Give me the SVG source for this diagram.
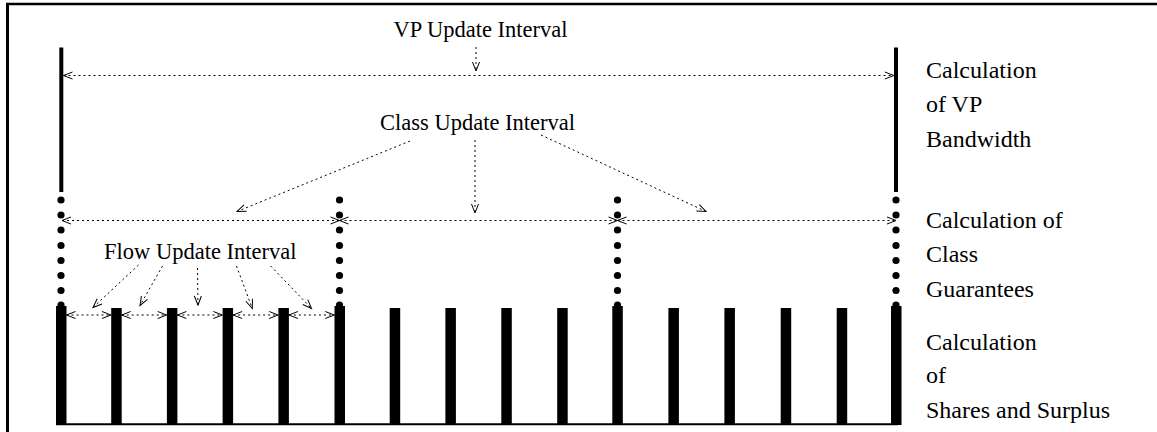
<svg xmlns="http://www.w3.org/2000/svg" width="1157" height="432" viewBox="0 0 1157 432">
  <style>
    .lbl { font-family: "Liberation Serif", "Times New Roman", serif; fill: #000; }
    .mid { font-size: 22.5px; text-anchor: middle; }
    .side { font-size: 24px; }
    .dot { stroke: #000; stroke-width: 1; stroke-dasharray: 2 3; fill: none; }
    .thick { stroke: #000; stroke-width: 4; fill: none; }
    .bar { fill: #000; }
    .head { stroke: #000; stroke-width: 1; fill: none; }
  </style>
  <defs>
    <marker id="arr" markerUnits="userSpaceOnUse" markerWidth="12" markerHeight="10" refX="0" refY="0" viewBox="-11 -5 12 10" orient="auto-start-reverse" overflow="visible">
      <path class="head" d="M-9,-3.5 L0,0 L-9,3.5"/>
    </marker>
    <g id="dots">
      <circle cx="0" cy="200" r="3.6"/>
      <circle cx="0" cy="215" r="3.6"/>
      <circle cx="0" cy="230" r="3.6"/>
      <circle cx="0" cy="245.5" r="3.6"/>
      <circle cx="0" cy="260.5" r="3.6"/>
      <circle cx="0" cy="275.5" r="3.6"/>
      <circle cx="0" cy="290.5" r="3.6"/>
      <circle cx="0" cy="305" r="3.6"/>
    </g>
  </defs>

  <rect width="1157" height="432" fill="#fff"/>

  <!-- outer frame: top and left edges -->
  <g id="frame" stroke="#000" fill="none">
    <line x1="6" y1="4" x2="1157" y2="4" stroke-width="2.5"/>
    <line x1="7.5" y1="3" x2="7.5" y2="432" stroke-width="3"/>
  </g>

  <!-- VP level: long bars bounding the VP update interval -->
  <g id="vp-level">
    <line class="thick" x1="61.3" y1="47.5" x2="61.3" y2="192"/>
    <line class="thick" x1="896" y1="47.5" x2="896" y2="192"/>
  </g>

  <!-- class level: dotted columns -->
  <g id="class-level" fill="#000">
    <use href="#dots" x="61"/>
    <use href="#dots" x="339.5"/>
    <use href="#dots" x="617.5"/>
    <use href="#dots" x="896"/>
  </g>

  <!-- flow level: comb of short bars on a base line -->
  <g id="flow-level">
    <rect class="bar" x="56" y="306" width="10.5" height="118.5"/>
    <rect class="bar" x="111.2" y="308" width="10.5" height="116"/>
    <rect class="bar" x="166.9" y="308" width="10.5" height="116"/>
    <rect class="bar" x="222.6" y="308" width="10.5" height="116"/>
    <rect class="bar" x="278.4" y="308" width="10.5" height="116"/>
    <rect class="bar" x="334.5" y="306" width="10.5" height="118"/>
    <rect class="bar" x="389.7" y="308" width="10.5" height="116"/>
    <rect class="bar" x="445.4" y="308" width="10.5" height="116"/>
    <rect class="bar" x="501.3" y="308" width="10.5" height="116"/>
    <rect class="bar" x="557.2" y="308" width="10.5" height="116"/>
    <rect class="bar" x="612.3" y="306" width="10.5" height="118"/>
    <rect class="bar" x="668.4" y="308" width="10.5" height="116"/>
    <rect class="bar" x="724.4" y="308" width="10.5" height="116"/>
    <rect class="bar" x="780.7" y="308" width="10.5" height="116"/>
    <rect class="bar" x="836.7" y="308" width="10.5" height="116"/>
    <rect class="bar" x="891" y="306" width="10.5" height="119"/>
    <line x1="56" y1="424.3" x2="898" y2="424.3" stroke="#000" stroke-width="2"/>
  </g>

  <!-- labels -->
  <g id="vp-label">
    <text class="lbl mid" x="480.5" y="37">VP Update Interval</text>
  </g>
  <g id="class-label">
    <text class="lbl mid" x="477.5" y="129.5">Class Update Interval</text>
  </g>
  <g id="flow-label">
    <text class="lbl mid" x="200.3" y="258.5">Flow Update Interval</text>
  </g>
  <g id="vp-calc">
    <text class="lbl side" x="926" y="78.3">Calculation</text>
    <text class="lbl side" x="926" y="111.8">of VP</text>
    <text class="lbl side" x="926" y="146.7">Bandwidth</text>
  </g>
  <g id="class-calc">
    <text class="lbl side" x="926" y="228.3">Calculation of</text>
    <text class="lbl side" x="926" y="261.7">Class</text>
    <text class="lbl side" x="926" y="296.7">Guarantees</text>
  </g>
  <g id="flow-calc">
    <text class="lbl side" x="926" y="350">Calculation</text>
    <text class="lbl side" x="926" y="383.3">of</text>
    <text class="lbl side" x="926" y="418.3">Shares and Surplus</text>
  </g>

  <!-- interval spans and pointers -->
  <g id="connectors">
    <!-- VP interval -->
    <line class="dot" x1="63.5" y1="75.5" x2="893.8" y2="75.5" marker-start="url(#arr)" marker-end="url(#arr)"/>
    <line class="dot" x1="476" y1="47" x2="476" y2="71" marker-end="url(#arr)"/>

    <!-- class intervals -->
    <line class="dot" x1="62" y1="220.5" x2="339.5" y2="220.5" marker-start="url(#arr)" marker-end="url(#arr)"/>
    <line class="dot" x1="339.5" y1="220.5" x2="617.5" y2="220.5" marker-start="url(#arr)" marker-end="url(#arr)"/>
    <line class="dot" x1="617.5" y1="220.5" x2="896" y2="220.5" marker-start="url(#arr)" marker-end="url(#arr)"/>
    <line class="dot" x1="410" y1="141" x2="237" y2="211.5" marker-end="url(#arr)"/>
    <line class="dot" x1="475" y1="140" x2="475" y2="213" marker-end="url(#arr)"/>
    <line class="dot" x1="541" y1="135" x2="706" y2="211.5" marker-end="url(#arr)"/>

    <!-- flow intervals -->
    <line class="dot" x1="66.5" y1="315" x2="111" y2="315" marker-start="url(#arr)" marker-end="url(#arr)"/>
    <line class="dot" x1="121.7" y1="315" x2="166.7" y2="315" marker-start="url(#arr)" marker-end="url(#arr)"/>
    <line class="dot" x1="177.4" y1="315" x2="222.4" y2="315" marker-start="url(#arr)" marker-end="url(#arr)"/>
    <line class="dot" x1="233.1" y1="315" x2="278.2" y2="315" marker-start="url(#arr)" marker-end="url(#arr)"/>
    <line class="dot" x1="288.9" y1="315" x2="334.3" y2="315" marker-start="url(#arr)" marker-end="url(#arr)"/>
    <line class="dot" x1="138.5" y1="265" x2="93" y2="307.5" marker-end="url(#arr)"/>
    <line class="dot" x1="162.5" y1="266" x2="140" y2="305.5" marker-end="url(#arr)"/>
    <line class="dot" x1="197.5" y1="268" x2="198" y2="305" marker-end="url(#arr)"/>
    <line class="dot" x1="236.5" y1="266" x2="252.3" y2="308.5" marker-end="url(#arr)"/>
    <line class="dot" x1="270.7" y1="266" x2="311.5" y2="308.5" marker-end="url(#arr)"/>
  </g>
</svg>
